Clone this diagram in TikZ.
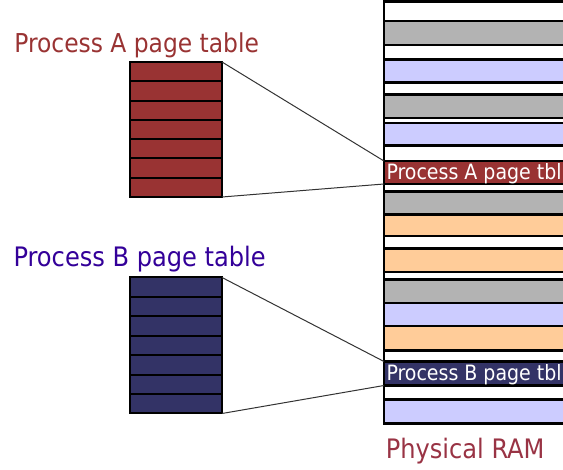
\documentclass[tikz,border=0pt]{standalone}
\usepackage{fontspec}
\usetikzlibrary{calc}
\setmainfont{DejaVu Sans Condensed}
\definecolor{maroonA}{HTML}{993333}
\definecolor{navyB}{HTML}{333366}
\definecolor{grayband}{HTML}{B3B3B3}
\definecolor{lavband}{HTML}{CCCCFF}
\definecolor{orgband}{HTML}{FFCC99}
\definecolor{titleA}{HTML}{993333}
\definecolor{titleB}{HTML}{330099}
\definecolor{ramtxt}{HTML}{993344}
\begin{document}
\begin{tikzpicture}[x=1pt,y=-1pt,
  band/.style={draw=black,line width=2.5pt,minimum width=216pt,inner sep=0pt,outer sep=0pt,rectangle},
  ptable/.style={draw=black,line width=2pt,minimum width=92.5pt,inner sep=0pt,outer sep=0pt,rectangle},
  rowline/.style={black,line width=2pt},
  link/.style={black!80,line width=1pt},
  title/.style={inner sep=0pt,outer sep=0pt,anchor=base west},
  bandtxt/.style={inner sep=0pt,outer sep=0pt,anchor=base west,text=white,font=\fontsize{21.1}{24}\selectfont}]
\useasboundingbox (0,0) rectangle (563,470);
% titles
\node[title,text=titleA,font=\fontsize{26}{30}\selectfont] (tA) at (14.4,52.3) {Process A page table};
\node[title,text=titleB,font=\fontsize{26.8}{30}\selectfont] (tB) at (13.6,266.7) {Process B page table};
\node[title,text=ramtxt,font=\fontsize{26.8}{30}\selectfont] (ramlbl) at (385.8,458.8) {Physical RAM};
% page tables
\node[ptable,fill=maroonA,minimum height=135pt] (pa) at (175.75,129.5) {};
\node[ptable,fill=navyB,minimum height=136pt] (pb) at (175.75,345.5) {};
\foreach \k in {1,...,6}{
  \draw[rowline] ($(pa.north west)!{\k/7}!(pa.south west)$) -- ($(pa.north east)!{\k/7}!(pa.south east)$);
  \draw[rowline] ($(pb.north west)!{\k/7}!(pb.south west)$) -- ($(pb.north east)!{\k/7}!(pb.south east)$);
}
% RAM column
\begin{scope}
\clip (0,0) rectangle (563,470);
\node[band,fill=white,minimum height=422pt] (ram) at (492,212.5) {};
\foreach \t/\b/\c [count=\i] in {21/45/grayband,59.5/82.5/lavband,94.5/118/grayband,123/145.5/lavband,
  161/184/maroonA,191.5/214.5/grayband,214.5/236/orgband,248.5/272/orgband,279.5/303/grayband,
  303/326/lavband,326/350.5/orgband,361.5/385.5/navyB,399.5/423.5/lavband}{
  \node[band,fill=\c,minimum height={(\b-\t)*1pt}] (b\i) at (492,{(\t+\b)/2}) {};
}
\draw[black,line width=2.5pt] (ram.north west) rectangle (ram.south east);
\node[bandtxt] (ta) at (386.5,180) {Process A page tbl};
\node[bandtxt] (tb) at (386.5,380.8) {Process B page tbl};
\end{scope}
% connectors
\draw[link] (pa.north east) -- (b5.north west);
\draw[link] (pa.south east) -- (b5.south west);
\draw[link] (pb.north east) -- (b12.north west);
\draw[link] (pb.south east) -- (b12.south west);
\end{tikzpicture}
\end{document}
